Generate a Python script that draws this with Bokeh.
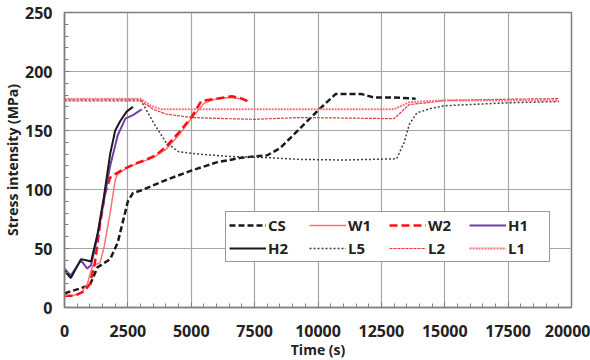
from bokeh.plotting import figure
from bokeh.models import Range1d, Legend, LegendItem, SingleIntervalTicker
from bokeh.embed import file_html
from bokeh.resources import INLINE

# ---- data ----
CS_t = [0, 300, 600, 1000, 1300, 1800, 2100, 2500, 2700, 3000, 4000, 5000, 6000, 7000, 8000, 8500, 9300, 10000, 10700, 11700, 12200, 13000, 13850]
CS_v = [12, 14, 16, 19, 34, 41, 55, 90, 97, 99, 108, 116, 123, 127, 129, 135, 152, 167, 181, 181, 178, 178, 177]

W1_t = [0, 300, 650, 900, 1100, 1400, 1550, 1800, 2000, 2100, 2500, 3000, 3500, 4000, 4500, 5000, 5500, 6000, 6500, 7000, 7250]
W1_v = [10, 10, 12, 20, 35, 38, 50, 80, 108, 113, 119, 123, 127, 134, 146, 160, 173, 177, 178, 177, 175]

W2_t = [0, 400, 800, 1000, 1200, 1400, 1600, 1800, 2000, 2400, 2800, 3200, 3600, 4000, 4500, 5000, 5400, 6000, 6600, 7000, 7200]
W2_v = [10, 10, 14, 20, 38, 70, 97, 110, 113, 118, 122, 125, 129, 136, 148, 161, 175, 177, 179, 177, 175]

H1_t = [0, 250, 650, 900, 1050, 1300, 1550, 1800, 2100, 2400, 2700, 3050]
H1_v = [33, 27, 40, 33, 36, 60, 90, 120, 146, 160, 163, 168]

H2_t = [0, 250, 650, 850, 1050, 1300, 1550, 1800, 2000, 2200, 2450, 2700]
H2_v = [31, 25, 41, 40, 39, 62, 93, 130, 150, 158, 166, 170]

L5_t = [0, 3000, 3500, 4000, 4500, 5300, 6500, 8000, 9300, 11000, 13100, 13400, 13600, 13900, 14500, 15000, 16000, 17500, 19500]
L5_v = [176, 176, 157, 140, 132, 130, 128, 127, 125.5, 125, 126, 140, 155, 165, 169, 171, 172, 173.5, 174.5]

L2_t = [0, 3000, 3500, 4000, 5000, 6500, 7500, 9300, 11300, 13000, 13300, 13600, 14500, 15000, 17500, 19500]
L2_v = [175, 175, 168, 164, 161, 160, 159.5, 161, 160.5, 160, 166, 172, 174, 175.5, 176.5, 177]

L1_t = [0, 3000, 3400, 3800, 5000, 8000, 13000, 13300, 13600, 14500, 15000, 17500, 19500]
L1_v = [177, 177, 171, 168, 168, 168, 168, 171, 174, 175, 175.5, 175.5, 175.5]

series = [
    ("CS", CS_t, CS_v, dict(line_color="#1a1a1a", line_width=2.5, line_dash="6 3")),
    ("W1", W1_t, W1_v, dict(line_color="#ff7070", line_width=1.5)),
    ("W2", W2_t, W2_v, dict(line_color="#ff1010", line_width=2.5, line_dash="8 4")),
    ("H1", H1_t, H1_v, dict(line_color="#7040a8", line_width=2)),
    ("H2", H2_t, H2_v, dict(line_color="#1a1a1a", line_width=2)),
    ("L5", L5_t, L5_v, dict(line_color="#404040", line_width=1.5, line_dash="2 2")),
    ("L2", L2_t, L2_v, dict(line_color="#ee3344", line_width=1.2, line_dash="3 1")),
    ("L1", L1_t, L1_v, dict(line_color="#ff7080", line_width=2, line_dash="2 1")),
]

FONT = "Open Sans"

p = figure(frame_width=507, frame_height=295, output_backend="svg", toolbar_location=None,
           x_range=Range1d(0, 20000), y_range=Range1d(0, 250),
           min_border_left=64, min_border_right=19, min_border_top=12, min_border_bottom=53)
p.background_fill_color = "white"
p.border_fill_color = "white"
p.outline_line_color = "#7f7f7f"
p.outline_line_width = 1.5

p.xaxis.ticker = SingleIntervalTicker(interval=2500, num_minor_ticks=5)
p.yaxis.ticker = SingleIntervalTicker(interval=50, num_minor_ticks=5)

for ax in (p.xaxis[0], p.yaxis[0]):
    ax.axis_line_color = "#7f7f7f"
    ax.axis_line_width = 1.5
    ax.major_tick_in = 5
    ax.major_tick_out = 0
    ax.minor_tick_in = 4
    ax.minor_tick_out = 0
    ax.major_tick_line_color = "#7f7f7f"
    ax.minor_tick_line_color = "#7f7f7f"
    ax.major_label_text_font = FONT
    ax.major_label_text_font_style = "bold"
    ax.major_label_text_font_size = "16px"
    ax.major_label_text_color = "#222222"
    ax.axis_label_text_font = FONT
    ax.axis_label_text_font_style = "bold"
    ax.axis_label_text_font_size = "14px"
    ax.axis_label_text_color = "#222222"

p.xaxis.axis_label = "Time (s)"
p.yaxis.axis_label = "Stress intensity (MPa)"
p.xaxis.major_label_standoff = 17
p.xaxis.axis_label_standoff = 0
p.yaxis.major_label_standoff = 12
p.yaxis.axis_label_standoff = 0

p.xgrid.grid_line_color = "#a6a6a6"
p.ygrid.grid_line_color = "#a6a6a6"
p.xgrid.grid_line_width = 1.2
p.ygrid.grid_line_width = 1.2

items = []
for name, t, v, style in series:
    r = p.line(t, v, **style)
    items.append(LegendItem(label=name, renderers=[r]))

legend = Legend(items=items, location=(161, 45), orientation="horizontal", ncols=4,
                glyph_width=37, glyph_height=20, label_height=20, label_width=38,
                label_standoff=2, spacing=3, padding=3, margin=0,
                label_text_font=FONT, label_text_font_style="bold",
                label_text_font_size="15px", label_text_color="#222222",
                border_line_color="#333333", border_line_width=1,
                background_fill_color="white", background_fill_alpha=1.0)
p.add_layout(legend, "center")

open("out.html", "w").write(file_html(p, INLINE))
